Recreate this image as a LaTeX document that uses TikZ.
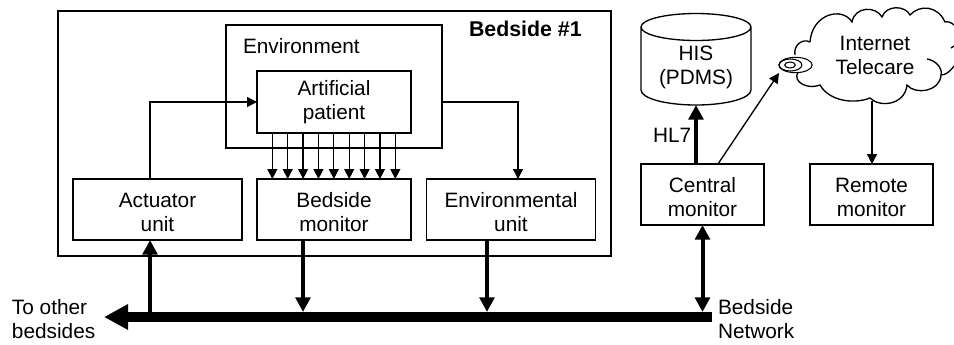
\documentclass[tikz,border=0pt]{standalone}
\usepackage{fontspec}
\setmainfont{Liberation Sans}
\usetikzlibrary{arrows.meta,shapes.geometric}

\tikzset{
  blockbox/.style={draw,rectangle,outer sep=0pt,inner sep=0pt,align=center,line width=1pt,
    font=\fontsize{15.6}{18}\selectfont},
  lowbox/.style={blockbox,minimum height=45.75pt,text height=33pt,text depth=0pt},
  unitbox/.style={lowbox,minimum width=126.75pt},
  wardbox/.style={lowbox,minimum width=92.25pt},
  plain/.style={inner sep=0pt,outer sep=0pt,align=left,font=\fontsize{15.6}{18}\selectfont},
  thinarrow/.style={line width=1pt,-{Triangle[length=7.5pt,width=7.5pt]}},
  thickarrow/.style={line width=3pt,-{Triangle[length=11pt,width=11pt]}},
  bothway/.style={line width=3pt,{Triangle[length=11pt,width=11pt]}-{Triangle[length=11pt,width=11pt]}}
}

\begin{document}
\begin{tikzpicture}[x=.75pt,y=-.75pt]
    \useasboundingbox (0,0) rectangle (954,344);
    \node[blockbox,minimum width=414.75pt,minimum height=183.75pt] (bed) at (334.5,133.5) {};
    \node[blockbox,minimum width=162pt,minimum height=92.25pt] (envbox) at (334,86.5) {};
    \node[blockbox,minimum width=115.5pt,minimum height=46.5pt] (pat) at (334,102) {Artificial\\patient};
    \node[unitbox] (act) at (157.5,209.5) {Actuator\\unit};
    \node[lowbox,minimum width=115.5pt] (mon) at (334,209.5) {Bedside\\monitor};
    \node[unitbox] (envunit) at (511,209.5) {Environmental\\unit};
    \node[wardbox] (cen) at (702.5,194.5) {Central\\monitor};
    \node[wardbox] (rem) at (871.5,194.5) {Remote\\monitor};
    \node[plain,anchor=west] (envlab) at (243,46) {Environment};
    \node[plain,anchor=west,font=\fontsize{16}{18}\selectfont\bfseries] (bedlab) at (469,29) {Bedside \#1};
    \node[plain,anchor=west] (hl) at (653,135) {HL7};
    \node[plain,anchor=west] (other) at (12,319) {To other\\bedsides};
    \node[plain,anchor=west] (netlab) at (718,319) {Bedside\\Network};
    % database
    \draw[line width=1pt] (641,27) arc (180:-180:55 and 13.5) -- (641,90) arc (180:0:55 and 15) -- (751,27);
    \node[plain,align=center] (his) at (696,67) {HIS\\(PDMS)};
    \coordinate (hisb) at (696,105);
    % cloud
    \draw[line width=1pt] (810,42)
      .. controls (812,14) and (842,6) .. (852,22)
      .. controls (855,6) and (876,6) .. (882,17)
      .. controls (886,5) and (905,5) .. (910,15)
      .. controls (920,4) and (938,6) .. (945,22)
      .. controls (948,21) and (952,23) .. (954,25);
    \draw[line width=1pt] (954,66) .. controls (950,72) and (945,75) .. (941,75);
    \draw[line width=1pt] (927,59) .. controls (935,60) and (943,68) .. (941,75)
      .. controls (940,92) and (915,95) .. (907,85)
      .. controls (905,105) and (880,108) .. (870,98)
      .. controls (855,104) and (830,102) .. (820,85)
      .. controls (808,90) and (792,82) .. (798,72);
    \draw[line width=1pt] (795,55) .. controls (793,45) and (803,38) .. (810,42);
    \draw[line width=1pt] (951,48) -- (954,46);
    \node[plain,align=center] (net) at (875,55) {Internet\\Telecare};
    \node[draw,fill=white,line width=.8pt,ellipse,inner sep=0pt,minimum width=25pt,minimum height=11.5pt] (bub) at (795.5,65) {};
    \node[draw,line width=.8pt,ellipse,inner sep=0pt,minimum width=17pt,minimum height=9pt] (bubin) at (790.5,65) {};
    \node[draw,line width=.8pt,ellipse,inner sep=0pt,minimum width=8pt,minimum height=4.5pt] (bubcore) at (790,65) {};
    \coordinate (bubtip) at (779,73);
    \coordinate (netb) at (872,101);
    % bus
    \coordinate (busr) at (712,317);
    \coordinate (busl) at (104,317);
    \coordinate (bustop) at (712,312);
    \draw[line width=8.2pt,-{Triangle[length=18pt,width=18pt]}] (busr) -- (busl);
    \draw[thickarrow] ([xshift=-5.6pt]act.south |- busr) -- ([xshift=-5.6pt]act.south);
    \draw[thickarrow] ([xshift=-23.25pt]mon.south) -- ([xshift=-23.25pt]mon.south |- bustop);
    \draw[thickarrow] ([xshift=-18pt]envunit.south) -- ([xshift=-18pt]envunit.south |- bustop);
    \draw[bothway] (cen.south) -- (cen.south |- bustop);
    \draw[thickarrow] (hisb |- cen.north) -- (hisb);
    % thin links
    \draw[thinarrow] ([xshift=-5.6pt]act.north) |- (pat.west);
    \draw[thinarrow] (envbox.east |- pat.west) -| ([xshift=5.25pt]envunit.north);
    \foreach \x in {0,...,8}
    \draw[thinarrow] ([xshift=11.5pt+\x*11.53pt]pat.south west) -- ([xshift=11.5pt+\x*11.53pt]mon.north west);
    \draw[thinarrow] ([xshift=11.6pt]cen.north) -- (bubtip);
    \draw[thinarrow] (netb) -- (netb |- rem.north);
  \end{tikzpicture}
\end{document}
